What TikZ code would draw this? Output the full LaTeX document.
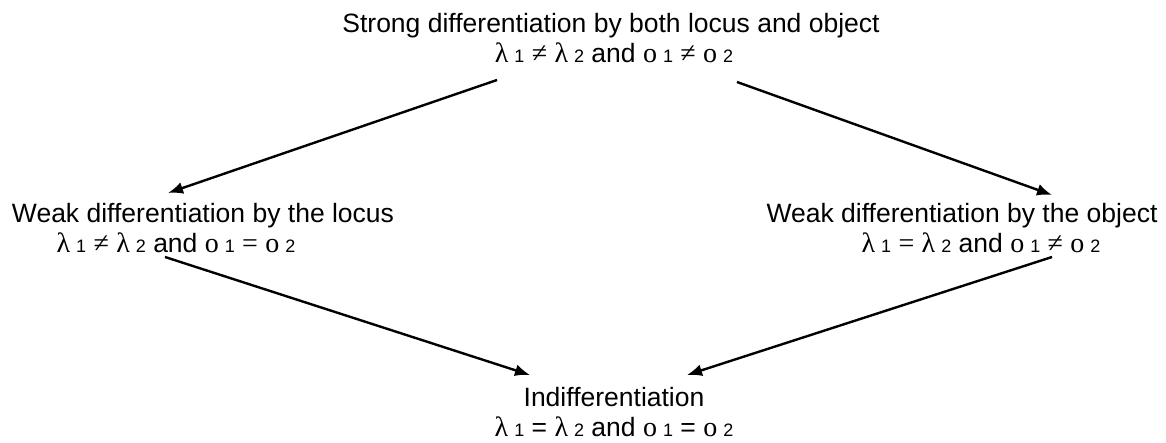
\documentclass[tikz,border=0pt]{standalone}
\usepackage{fontspec}
\setmainfont{Liberation Sans}
\newfontfamily\greekfont{Liberation Serif}
\usepackage{xcolor}
\definecolor{inkblack}{RGB}{0, 0, 0}
\usepackage{tikz}
\usetikzlibrary{arrows.meta, positioning, calc}

\newcommand{\gk}[1]{{\greekfont\fontsize{28}{30}\selectfont #1}}
\newcommand{\ix}[1]{\hspace{6pt}{\fontsize{18}{20}\selectfont #1}}
\tikzset{
    level/.style={align=center, inner sep=0pt, text=inkblack,
        font=\fontsize{26.5}{30}\selectfont},
    link/.style={line width=2.4pt, inkblack, -{Latex[length=15pt,width=12pt]}}
}

\begin{document}
\begin{tikzpicture}[x=1pt, y=-1pt, >=Stealth]
    \useasboundingbox (0,0) rectangle (1166,443);
    \node[level] (strong) at (611,38)
        {Strong differentiation by both locus and object\\
         \hspace*{6pt}\gk{λ}\ix{1} \gk{≠} \gk{λ}\ix{2} and \gk{o}\ix{1} \gk{≠} \gk{o}\ix{2}};
    \node[level] (locus) at (203,228)
        {Weak differentiation by the locus\\
         \gk{λ}\ix{1} \gk{≠} \gk{λ}\ix{2} and \gk{o}\ix{1} \gk{=} \gk{o}\ix{2}\hspace*{54pt}};
    \node[level] (object) at (962,228)
        {Weak differentiation by the object\\
         \hspace*{38pt}\gk{λ}\ix{1} \gk{=} \gk{λ}\ix{2} and \gk{o}\ix{1} \gk{≠} \gk{o}\ix{2}};
    \node[level] (none) at (614,412)
        {Indifferentiation\\
         \gk{λ}\ix{1} = \gk{λ}\ix{2} and \gk{o}\ix{1} = \gk{o}\ix{2}};
    \draw[link] ([shift={(-114,42)}]strong.center) -- ([shift={(-35,-35)}]locus.center);
    \draw[link] ([shift={(126,44)}]strong.center) -- ([shift={(90,-33)}]object.center);
    \draw[link] ([shift={(-38,29)}]locus.center) -- ([shift={(-84,-37)}]none.center);
    \draw[link] ([shift={(90,29)}]object.center) -- ([shift={(73,-37)}]none.center);
\end{tikzpicture}
\end{document}
